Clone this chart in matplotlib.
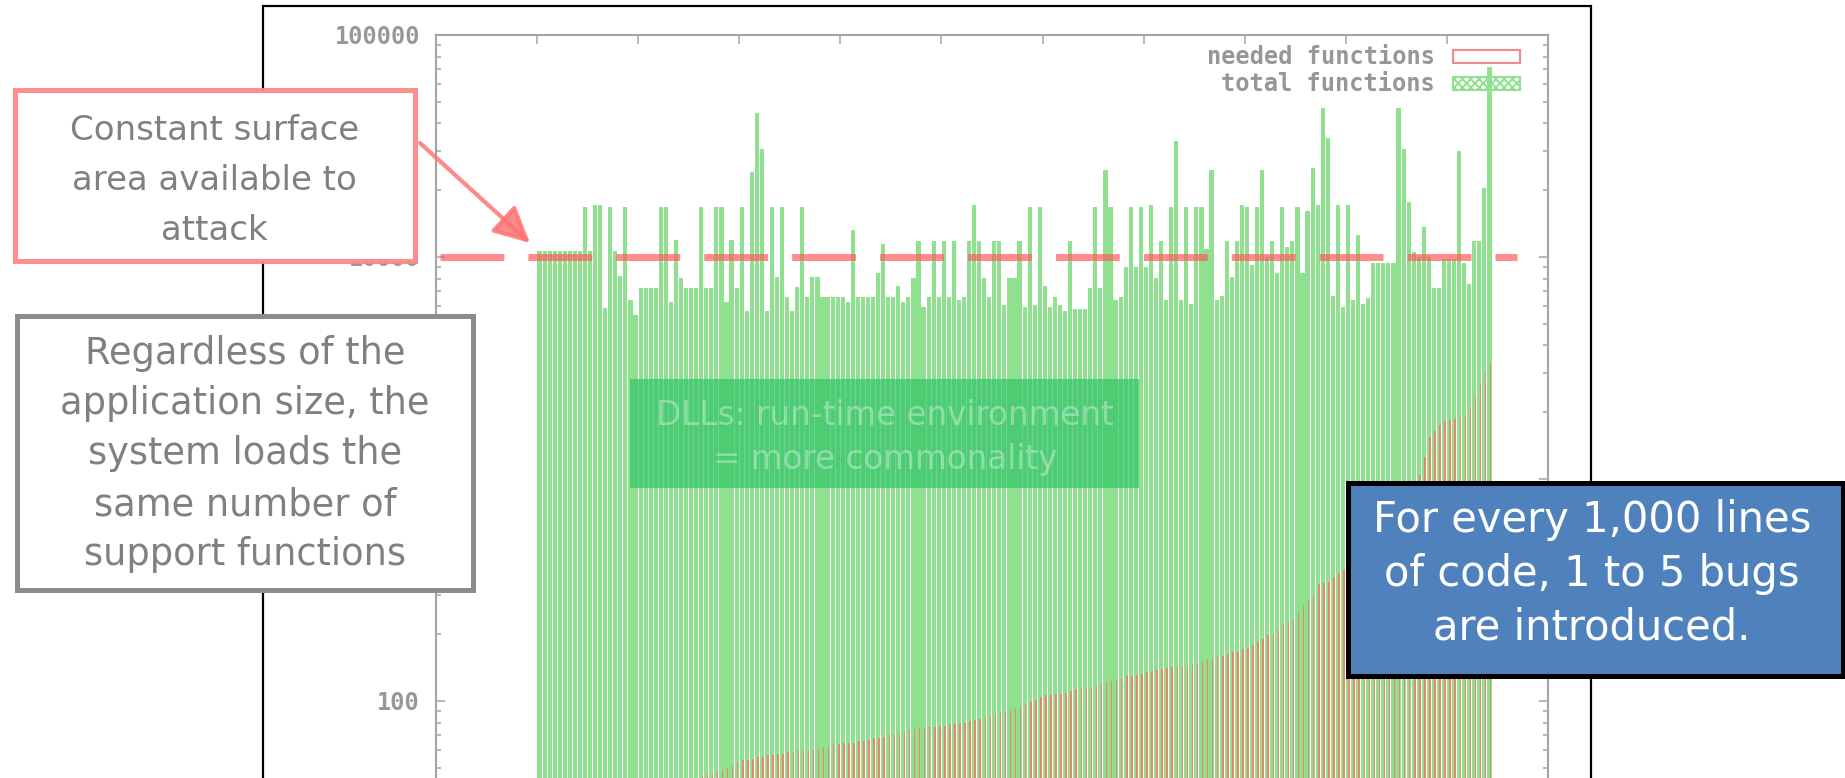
import numpy as np
import matplotlib
matplotlib.use("Agg")
import matplotlib.pyplot as plt
from matplotlib.patches import Rectangle, FancyArrowPatch
from matplotlib.ticker import FixedLocator, LogLocator, NullFormatter

plt.rcParams['lines.scale_dashes'] = False
plt.rcParams['hatch.linewidth'] = 1.4

# ---------------------------------------------------------------- data
# total functions loaded per application (sorted by needed functions)
total_functions = [
    10670, 10670, 10670, 10670, 10670, 10670, 10670, 10670, 10670, 16850,
    10670, 17150, 17150, 5870, 16850, 10670, 8230, 16850, 6400, 5480,
    7220, 7220, 7220, 7220, 16850, 16850, 6250, 11900, 8080, 7220,
    7220, 7220, 16850, 7220, 7220, 16850, 16850, 6250, 11900, 7220,
    16850, 5730, 24200, 44400, 30600, 5730, 16850, 8100, 16850, 6620,
    5730, 7300, 16850, 6620, 8100, 8100, 6620, 6620, 6620, 6620,
    6620, 6250, 13200, 6620, 6620, 6620, 6620, 8430, 11400, 6620,
    6620, 7400, 6250, 6620, 8080, 11850, 5970, 6620, 11850, 6620,
    11850, 6620, 11850, 6400, 6620, 11850, 17150, 11850, 8080, 6620,
    11850, 11850, 6080, 8080, 8080, 11850, 5970, 16850, 6080, 16850,
    7400, 5970, 6620, 6080, 5730, 11850, 5860, 5860, 5860, 7220,
    16850, 7220, 24600, 16850, 6400, 6620, 8980, 16850, 8980, 16850,
    8980, 17150, 8080, 11850, 6400, 16850, 33400, 6400, 16850, 6120,
    16850, 16850, 10850, 24600, 6400, 6670, 11850, 8100, 11850, 17150,
    16850, 9200, 16850, 24600, 10030, 11850, 8430, 16850, 11100, 11850,
    16850, 8430, 16100, 25200, 17150, 47100, 34300, 6670, 17150, 5970,
    17150, 6400, 12500, 6120, 6510, 9360, 9360, 9430, 9430, 9430,
    47100, 30600, 17600, 10500, 10030, 13600, 10030, 7220, 7220, 9800,
    9800, 9800, 30000, 9360, 7550, 11850, 11850, 20400, 72000,
]

# functions actually needed by each application
needed_functions = [
    2, 3, 4, 5, 6, 7, 8, 9, 10, 11,
    12, 13, 14, 15, 16, 18, 19, 20, 22, 23,
    25, 26, 28, 29, 31, 32, 34, 36, 38, 40,
    42, 44, 45, 46, 46, 47, 48, 49, 50, 52,
    53, 53, 54, 55, 55, 56, 56, 57, 57, 58,
    58, 59, 59, 59, 60, 60, 61, 62, 63, 63,
    64, 64, 64, 65, 65, 66, 67, 67, 68, 69,
    70, 71, 72, 74, 74, 75, 75, 75, 75, 76,
    76, 77, 78, 79, 79, 80, 81, 82, 84, 85,
    86, 87, 88, 90, 92, 94, 96, 98, 100, 103,
    105, 105, 106, 107, 108, 110, 112, 113, 115, 115,
    116, 118, 120, 122, 124, 126, 128, 129, 130, 132,
    134, 135, 137, 139, 140, 141, 142, 142, 142, 145,
    148, 150, 153, 155, 157, 159, 162, 165, 166, 170,
    173, 178, 183, 190, 197, 200, 210, 221, 226, 231,
    250, 270, 285, 300, 335, 340, 343, 360, 378, 390,
    405, 420, 440, 460, 480, 510, 540, 570, 600, 640,
    690, 750, 820, 900, 1040, 1250, 1545, 1650, 1750, 1820,
    1850, 1870, 1900, 1950, 2100, 2370, 2700, 3030, 3300,
]

# log axis decades; labels of decades hidden under the callouts or
# below the visible area are left blank
y_major_ticks = [1, 10, 100, 1000, 10000, 100000]
y_tick_labels = ["", "", "100", "", "10000", "100000"]
series_labels = ["needed functions", "total functions"]
surface_level = 10000

surface_note = ["Constant surface", "area available to", "attack"]
size_note = ["Regardless of the", "application size, the", "system loads the",
             "same number of", "support functions"]
bug_note = ["For every 1,000 lines", "of code, 1 to 5 bugs", "are introduced."]
dll_note = ["DLLs: run-time environment", "= more commonality"]

# ---------------------------------------------------------------- styles
GREEN = '#8fe18f'
RED_LINE = '#e8866f'
AXIS_GRAY = '#a3a3a3'
TEXT_GRAY = '#979797'
NOTE_GRAY = '#808080'
MONO = 'DejaVu Sans Mono'
SANS = 'DejaVu Sans'

W, H, DPI = 1845, 778, 100
fig = plt.figure(figsize=(W / DPI, H / DPI), dpi=DPI, facecolor='white')


def fx(px):
    return px / W


def fy(py):
    return 1.0 - py / H


def rect_px(x0, y0, x1, y1, **kw):
    return Rectangle((fx(x0), fy(y1)), (x1 - x0) / W, (y1 - y0) / H,
                     transform=fig.transFigure, **kw)


# ---------------------------------------------------------------- axes
AX_L, AX_R, AX_T = 436, 1548, 35
DECADE_PX = 222
Y_BOTTOM, Y_TOP = y_major_ticks[0], y_major_ticks[-1]
ax_b = AX_T + DECADE_PX * (np.log10(Y_TOP) - np.log10(Y_BOTTOM))
ax = fig.add_axes([fx(AX_L), fy(ax_b), (AX_R - AX_L) / W, (ax_b - AX_T) / H])
ax.set_facecolor('white')

n = len(total_functions)
idx = np.arange(n)
BAR_L, BAR_R = 537, 1492
pitch = (BAR_R - BAR_L) / n
x0 = -0.5 - (BAR_L - AX_L) / pitch
x1 = n - 0.5 + (AX_R - BAR_R) / pitch


def xdata(px):
    return x0 + (px - AX_L) / pitch


ax.set_yscale('log')
ax.set_xlim(x0, x1)
ax.set_ylim(Y_BOTTOM, Y_TOP)

ax.bar(idx, total_functions, width=0.82, bottom=Y_BOTTOM, color=GREEN,
       linewidth=0, zorder=2)
ax.bar(idx + 0.22, needed_functions, width=0.3, bottom=Y_BOTTOM,
       color=RED_LINE, linewidth=0, zorder=3)

# ticks
ax.set_xticks([xdata(AX_L + k * (AX_R - AX_L) / 11) for k in range(12)])
ax.tick_params(axis='x', which='major', direction='in', length=6.5, width=1.1,
               color=AXIS_GRAY, top=True, bottom=True,
               labelbottom=False, labeltop=False)
ax.yaxis.set_major_locator(FixedLocator(y_major_ticks))
ax.yaxis.set_minor_locator(LogLocator(base=10, subs=np.arange(2, 10), numticks=20))
ax.yaxis.set_minor_formatter(NullFormatter())
ax.set_yticklabels(y_tick_labels, fontfamily=MONO, fontweight='bold',
                   fontsize=17, color=TEXT_GRAY)
ax.tick_params(axis='y', which='major', direction='in', length=6.5, width=1.1,
               color=AXIS_GRAY, left=True, right=True, pad=11.5)
ax.tick_params(axis='y', which='minor', direction='in', length=3.6, width=1.1,
               color=AXIS_GRAY, left=True, right=True)
for side, sp in ax.spines.items():
    sp.set_color(AXIS_GRAY)
    sp.set_linewidth(1.5)

# legend
for label, yc in zip(series_labels, [57, 84]):
    ax.text(fx(1435), fy(yc), label, transform=fig.transFigure, ha='right',
            va='center', fontfamily=MONO, fontweight='bold', fontsize=17,
            color=TEXT_GRAY, zorder=6)
ax.add_patch(rect_px(1453, 50, 1520, 63, facecolor='none',
                     edgecolor='#f28a8a', linewidth=1.5, zorder=1))
ax.add_patch(rect_px(1453, 77, 1520, 90, facecolor='white',
                     edgecolor='#8fe08f', hatch='xxxx', linewidth=1.5, zorder=1))

# constant surface line
ax.plot([xdata(440), xdata(1517)], [surface_level, surface_level],
        color=(1.0, 0.36, 0.36, 0.7), linewidth=5.0, dashes=(46, 17.3),
        dash_capstyle='butt', solid_capstyle='butt', clip_on=False, zorder=5)

# ---------------------------------------------------------------- slide overlays
# frame of the chart image
fig.add_artist(rect_px(263, 6, 1591, 900, fill=False, edgecolor='black',
                       linewidth=1.6, zorder=1))

# callout boxes
fig.add_artist(rect_px(14.5, 89.5, 414.5, 260.5, facecolor='white',
                       edgecolor=(1.0, 0.52, 0.52, 0.92), linewidth=3.6, zorder=10))
fig.add_artist(FancyArrowPatch((fx(420), fy(143)), (fx(530), fy(243)),
                               transform=fig.transFigure,
                               arrowstyle='-|>,head_length=1.0,head_width=0.5',
                               mutation_scale=22, color=(1.0, 0.45, 0.45, 0.85),
                               linewidth=3, shrinkA=0, shrinkB=0, zorder=11))
fig.add_artist(rect_px(16.5, 316.5, 472.5, 589.5, facecolor='white',
                       edgecolor='#8c8c8c', linewidth=3.6, zorder=10))
fig.add_artist(rect_px(1347.5, 482.5, 1842.5, 675.5, facecolor='#4f81bd',
                       edgecolor='black', linewidth=3.6, zorder=10))
fig.add_artist(rect_px(630, 379, 1139, 488,
                       facecolor=(56 / 255, 197 / 255, 107 / 255, 0.75),
                       edgecolor='none', zorder=10))


def note(lines, xc, baselines, size, color):
    for line, yb in zip(lines, baselines):
        fig.text(fx(xc), fy(yb), line, ha='center', va='baseline',
                 fontfamily=SANS, fontsize=size, color=color, zorder=12)


note(surface_note, 214.5, [140, 190, 240], 24.5, NOTE_GRAY)
note(size_note, 245, [364, 414, 464, 515, 565], 26.5, NOTE_GRAY)
note(bug_note, 1592, [532, 586, 640], 30, 'white')
note(dll_note, 885, [425, 469], 23.5, (1, 1, 1, 0.35))

fig.savefig('out.png', dpi=DPI, facecolor='white')
